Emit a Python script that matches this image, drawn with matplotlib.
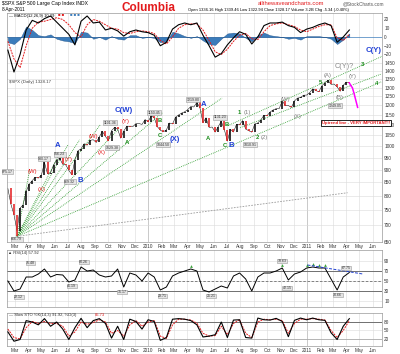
import matplotlib
matplotlib.use('Agg')
import matplotlib.pyplot as plt
from matplotlib.ticker import NullLocator, NullFormatter
import pandas as pd

plt.rcParams['font.family'] = ['Liberation Sans', 'DejaVu Sans']

# $SPX weekly closes, Fridays 13-Feb-2009 .. 8-Apr-2011
spx_close = [826.8, 770.1, 735.1, 683.4, 756.6, 768.5, 815.9, 842.5, 856.6, 869.6,
             866.2, 877.5, 929.2, 882.9, 887.0, 919.1, 940.1, 946.2, 921.2, 918.9,
             896.4, 879.1, 940.4, 979.3, 987.5, 1010.5, 1004.1, 1026.1, 1028.9, 1016.4,
             1042.7, 1068.3, 1044.4, 1025.2, 1071.5, 1087.7, 1079.6, 1036.2, 1069.3, 1093.5,
             1091.4, 1091.5, 1106.0, 1106.4, 1102.5, 1126.5, 1115.1,
             1145.0, 1136.0, 1091.8, 1073.9, 1066.2, 1075.5, 1109.2, 1104.5, 1138.7, 1150.0,
             1159.9, 1166.6, 1178.1, 1194.4, 1192.1, 1217.3, 1186.7, 1110.9, 1135.7, 1087.7,
             1089.4, 1064.9, 1091.6, 1117.5, 1076.8, 1022.6, 1078.0, 1064.9, 1102.7, 1101.6,
             1121.6, 1079.3, 1071.7, 1064.6, 1104.5, 1109.6, 1125.6, 1148.7, 1146.2, 1165.2,
             1176.2, 1183.1, 1183.3, 1225.9, 1199.2, 1199.7, 1189.4, 1224.7, 1240.4, 1243.9,
             1256.8, 1257.6,
             1271.5, 1293.2, 1283.4, 1276.3, 1310.9, 1329.2, 1343.0, 1319.9, 1321.2, 1304.3,
             1279.2, 1313.8, 1332.4, 1328.2]
week_dates = pd.date_range('2009-02-13', periods=len(spx_close), freq='W-FRI')
march_low = 666.79
march_low_week = 3

# projected decline (pink)
proj_dates = ['2011-04-12', '2011-04-15', '2011-04-19', '2011-04-27']
proj_vals = [1310, 1300, 1265, 1190]

# oscillators, every second week
top_black = [-15, -40, -20, 8, 19, 16, 21, 24, 17, 10, 3, -9, 18, 24, 16, 17, 8, 10, 7, 1,
             6, 8, 6, 5, 2, -10, -6, 9, 14, 16, 14, 16, 2, -10, -23, -19, -9, -1, 6, 3,
             -8, 0, 13, 16, 16, 17, 13, 11, 5, 9, 11, 14, 16, 13, -6, 0, 8]
top_red = [-5, -25, -35, -10, 10, 17, 18, 20, 22, 20, 14, 5, 0, 14, 20, 18, 14, 10, 9, 5,
           4, 6, 7, 6, 4, -4, -8, 0, 10, 14, 15, 15, 8, -4, -17, -20, -14, -5, 2, 4,
           -2, -3, 6, 13, 15, 16, 14, 12, 8, 6, 9, 12, 14, 14, -1, -4, 3]
top_hist = [-6, -8, -2, 12, 8, 2, 1, 3, -2, -4, -5, -7, 6, 5, -2, 0, -3, 1, -2, -3,
            2, 2, -1, 0, -1, -6, -5, 6, 4, 1, -1, 1, -4, -8, -9, -2, 4, 5, 4, -1,
            -5, 2, 5, 2, 1, 0, -2, -1, -3, 1, 1, 1, 0, -2, -8, -3, 4]
rsi = [50, 30, 34, 58, 58, 64, 74, 58, 63, 62, 48, 52, 78, 70, 72, 62, 58, 60, 74, 38,
       66, 62, 50, 66, 58, 32, 38, 60, 66, 70, 74, 70, 32, 28, 34, 40, 36, 60, 66, 54,
       30, 58, 66, 66, 70, 76, 52, 64, 68, 76, 78, 76, 76, 54, 32, 58, 67]
sto_k = [45, 12, 18, 85, 80, 70, 92, 65, 80, 55, 18, 60, 93, 60, 85, 92, 75, 23, 65, 18,
         90, 82, 55, 88, 82, 15, 25, 90, 92, 90, 85, 70, 27, 30, 35, 80, 25, 87, 88, 25,
         23, 94, 88, 87, 93, 82, 28, 86, 94, 88, 94, 88, 86, 42, 18, 65, 92]
sto_d = [55, 25, 20, 60, 82, 75, 82, 75, 75, 65, 30, 45, 80, 72, 78, 88, 80, 40, 50, 30,
         70, 85, 65, 80, 85, 30, 22, 70, 90, 90, 87, 76, 40, 30, 32, 65, 35, 75, 88, 40,
         25, 80, 90, 88, 90, 85, 40, 75, 90, 90, 92, 90, 87, 50, 25, 50, 85]
osc_dates = week_dates[::2]

price_ticks = list(range(650, 1451, 50))

# trend lines: fan from the March 2009 low, channel, long gray line
fan_ends = [('2009-04-04', 899), ('2009-06-08', 953), ('2009-07-01', 1006),
            ('2009-07-28', 1029), ('2009-09-13', 1100), ('2009-10-28', 1086),
            ('2010-02-03', 1162), ('2010-06-20', 1241), ('2011-06-20', 1334)]
channel = [(('2010-07-03', 1096), ('2011-06-24', 1499)),
           (('2010-07-31', 1086), ('2011-06-21', 1383))]
gray_line = (('2009-03-06', 666.79), ('2011-04-04', 811))

red_labels = [('(W)', '2009-04-11', 892), ('(X)', '2009-05-02', 822), ('(Y)', '2009-07-03', 943),
              ('(W)', '2009-08-28', 1043), ('(X)', '2009-09-17', 970), ('(Y)', '2009-11-10', 1116)]
blue_labels = [('A', '2009-06-08', 1001), ('B', '2009-07-30', 856), ('C(W)', '2009-11-05', 1172),
               ('(X)', '2010-03-03', 1029), ('A', '2010-05-09', 1203), ('B', '2010-07-12', 1002),
               ('C(Y)', '2011-06-02', 1534)]
green_labels = [('A', '2009-11-14', 1015), ('B', '2010-01-28', 1122), ('C', '2010-01-27', 1047),
                ('A', '2010-05-18', 1034), ('B', '2010-07-01', 1100), ('C', '2010-06-27', 1004),
                ('1', '2010-07-30', 1161), ('2', '2010-09-08', 1038), ('5', '2011-02-01', 1329),
                ('3', '2011-05-09', 1441), ('4', '2011-06-10', 1325)]
gray_labels = [('(1)', '2010-08-16', 1161), ('(2)', '2010-09-24', 1038), ('(W)', '2010-11-12', 1231),
               ('(X)', '2010-12-09', 1141), ('(A)', '2011-02-17', 1371), ('(Y)', '2011-04-16', 1365),
               ('(B)', '2011-03-16', 1245)]
price_boxes = [('875.17', '2009-02-12', 892), ('666.79', '2009-03-05', 658),
               ('930.17', '2009-05-06', 944), ('956.23', '2009-06-12', 963),
               ('869.32', '2009-07-05', 852), ('1101.36', '2009-10-06', 1111),
               ('1029.38', '2009-10-10', 993), ('1150.45', '2010-01-14', 1161),
               ('1044.50', '2010-02-05', 1006), ('1219.80', '2010-04-14', 1231),
               ('1131.23', '2010-06-15', 1137), ('1010.91', '2010-08-23', 1006),
               ('1249.05', '2011-03-07', 1198)]
rsi_boxes = [('22.12', '2009-03-10', 18), ('75.48', '2009-04-06', 86), ('41.19', '2009-07-10', 40),
             ('80.26', '2009-08-06', 88), ('35.17', '2009-11-03', 28), ('29.71', '2010-02-03', 20),
             ('25.21', '2010-05-25', 20), ('78.63', '2010-11-05', 90), ('42.15', '2010-11-16', 36),
             ('30.66', '2011-03-12', 22), ('67.75', '2011-04-01', 76)]

W, H = 400, 354
xlim = (pd.Timestamp('2009-02-11'), pd.Timestamp('2011-06-22'))
months = pd.date_range('2009-03-01', '2011-06-01', freq='MS')
month_labels = [str(m.year) if m.month == 1 else m.strftime('%b') for m in months]
red = '#e31a1c'
grid_c = '#dadada'


def box(top, bottom):
    return [7 / W, 1 - bottom / H, 375 / W, (bottom - top) / H]


def style(a):
    a.set_xlim(*xlim)
    a.set_xticks(months)
    a.set_xticklabels([])
    a.yaxis.tick_right()
    a.tick_params(length=0, labelsize=3.4, colors='#333333', pad=1.5)
    a.grid(True, color=grid_c, lw=0.4)
    for y in ['2010-01-01', '2011-01-01']:
        a.axvline(pd.Timestamp(y), color='#a8a8a8', lw=0.6, zorder=0.5)
    for s in a.spines.values():
        s.set_color('#999999')
        s.set_linewidth(0.5)


fig = plt.figure(figsize=(W / 100, H / 100), dpi=100)

# main price panel
ax = fig.add_axes(box(13, 242))
ax.set_yscale('log')
ax.set_ylim(651, 1818)
style(ax)
ax.set_yticks(price_ticks)
ax.set_yticklabels([str(v) for v in price_ticks])
ax.yaxis.set_minor_locator(NullLocator())
ax.yaxis.set_minor_formatter(NullFormatter())
ax.set_xticklabels(month_labels)

lows, highs, cols = [], [], []
for i in range(1, len(spx_close)):
    a, b = spx_close[i - 1], spx_close[i]
    lows.append(march_low if i == march_low_week else min(a, b))
    highs.append(max(a, b))
    cols.append('black' if b >= a else red)
ax.vlines(week_dates[1:], lows, highs, colors=cols, lw=1.1, zorder=3)
ax.plot(week_dates, spx_close, color='black', lw=0.35, zorder=2)
ax.plot([week_dates[-1]] + [pd.Timestamp(d) for d in proj_dates], [spx_close[-1]] + proj_vals,
        color='#ff00ff', lw=1.1, zorder=4)

origin = (week_dates[march_low_week], march_low)
for d, p in fan_ends:
    ax.plot([origin[0], pd.Timestamp(d)], [origin[1], p], color='#2a9a2a', lw=0.6,
            ls=(0, (1, 1.3)), zorder=2)
for (d0, p0), (d1, p1) in channel:
    ax.plot([pd.Timestamp(d0), pd.Timestamp(d1)], [p0, p1], color='#2a9a2a', lw=0.6,
            ls=(0, (1, 1.3)), zorder=2)
(gd0, gp0), (gd1, gp1) = gray_line
ax.plot([pd.Timestamp(gd0), pd.Timestamp(gd1)], [gp0, gp1], color='#9a9a9a', lw=0.6,
        ls=(0, (2, 1.5)), zorder=2)

for t, d, p in red_labels:
    ax.text(pd.Timestamp(d), p, t, color=red, fontsize=4.2, ha='center', va='center', zorder=5)
for t, d, p in blue_labels:
    ax.text(pd.Timestamp(d), p, t, color='#1f3fd6', fontsize=5.6, fontweight='bold',
            ha='center', va='center', zorder=5, clip_on=False)
for t, d, p in green_labels:
    ax.text(pd.Timestamp(d), p, t, color='#1a8c1a', fontsize=4.2, fontweight='bold',
            ha='center', va='center', zorder=5)
for t, d, p in gray_labels:
    ax.text(pd.Timestamp(d), p, t, color='#7f7f7f', fontsize=4.2, ha='center', va='center', zorder=5)
ax.text(pd.Timestamp('2011-03-28'), 1427, 'C(Y)?', color='#8a8a8a', fontsize=5.2,
        ha='center', va='center', zorder=5)
for t, d, p in price_boxes:
    ax.text(pd.Timestamp(d), p, t, fontsize=2.6, color='#333333', ha='center', va='center', zorder=6,
            bbox=dict(boxstyle='square,pad=0.12', fc='#e4e4e4', ec='#9a9a9a', lw=0.4))
ax.text(pd.Timestamp('2011-02-05'), 1111, 'Uptrend line - VERY IMPORTANT!!', color=red,
        fontsize=3.1, fontweight='bold', ha='left', va='center', zorder=7, clip_on=False,
        bbox=dict(boxstyle='square,pad=0.2', fc='white', ec='black', lw=0.6))
ax.text(0.005, 0.70, '$SPX (Daily) 1328.17', transform=ax.transAxes, fontsize=3.2,
        color='#444444', va='center')

# oscillator drawn over the top of the price panel
osc = fig.add_axes(box(13, 77))
osc.set_xlim(*xlim)
osc.set_ylim(-45.7, 27.4)
osc.patch.set_alpha(0)
for s in osc.spines.values():
    s.set_visible(False)
osc.set_xticks([])
osc.yaxis.tick_right()
osc.set_yticks([-20, -10, 0, 10, 20])
osc.tick_params(length=0, labelsize=3.4, colors='#333333', pad=1.5)
osc.fill_between(osc_dates[:len(top_hist)], 0, top_hist, color='#3b7cbb', lw=0.3,
                 edgecolor='#24558a', zorder=2)
osc.plot(osc_dates[:len(top_red)], top_red, color=red, lw=0.7, ls=(0, (2, 1)), zorder=3)
osc.plot(osc_dates[:len(top_black)], top_black, color='black', lw=0.8, zorder=4)
osc.axhline(0, color='#3b7cbb', lw=0.5, zorder=1)

# RSI panel
ra = fig.add_axes(box(250, 307))
ra.set_ylim(-2, 112)
style(ra)
ra.set_yticks([10, 30, 50, 70, 90])
ra.axhline(70, color='#707070', lw=0.7)
ra.axhline(30, color='#707070', lw=0.7)
ra.axhline(50, color='#707070', lw=0.6, ls=(0, (3, 2)))
ra.plot(osc_dates[:len(rsi)], rsi, color='black', lw=0.7, zorder=3)
for i, v in enumerate(rsi):
    if v >= 74 and osc_dates[i] > pd.Timestamp('2010-03-01'):
        ra.plot(osc_dates[i], v + 6, marker='^', ms=2, color='#3aa13a', mec='none', zorder=4)
ra.plot([pd.Timestamp('2011-01-02'), pd.Timestamp('2011-05-09')], [82, 64], color='#2040d0',
        lw=0.7, ls=(0, (3, 1.5)), zorder=4)
for t, d, v in rsi_boxes:
    ra.text(pd.Timestamp(d), v, t, fontsize=2.6, color='#333333', ha='center', va='center', zorder=6,
            bbox=dict(boxstyle='square,pad=0.12', fc='#e4e4e4', ec='#9a9a9a', lw=0.4))
ra.text(0.003, 0.985, '\u25b2 RSI(14) 57.92', transform=ra.transAxes, fontsize=3.0, va='top',
        ha='left', color='#333333', zorder=7)

# slow stochastic panel
sa = fig.add_axes(box(313, 346))
sa.set_ylim(-5, 112)
style(sa)
sa.set_yticks([20, 50, 80])
sa.axhline(80, color='#707070', lw=0.7)
sa.axhline(20, color='#a0a0a0', lw=0.5)
sa.plot(osc_dates[:len(sto_d)], sto_d, color=red, lw=0.7, ls=(0, (2, 1)), zorder=3)
sa.plot(osc_dates[:len(sto_k)], sto_k, color='black', lw=0.8, zorder=4)
sa.set_xticklabels(month_labels)
sa.text(0.005, 0.93, '\u2014 Slow STO %K(14,3) 91.92, %D(3)', transform=sa.transAxes,
        fontsize=3.0, va='center', ha='left', color='#333333')
sa.text(0.235, 0.93, '85.73', transform=sa.transAxes, fontsize=3.0, va='center', ha='left',
        color=red)

# header texts
fig.text(2 / W, 1 - 4 / H, '$SPX S&P 500 Large Cap Index INDX', fontsize=3.6, va='center')
fig.text(2 / W, 1 - 10 / H, '8-Apr-2011', fontsize=3.4, va='center')
fig.text(148 / W, 1 - 8 / H, 'Columbia', color=red, fontsize=8.5, fontweight='bold',
         ha='center', va='center')
fig.text(258 / W, 1 - 3.5 / H, 'allthewaveandcharts.com', color=red, fontsize=4.2, va='center')
fig.text(343 / W, 1 - 3.5 / H, '@StockCharts.com', color='#555555', fontsize=3.4, va='center')
fig.text(188 / W, 1 - 10 / H,
         'Open 1336.16 High 1339.46 Low 1322.94 Close 1328.17 Volume 3.2B Chg -5.34 (-0.40%)',
         fontsize=2.9, va='center')
fig.text(9 / W, 1 - 15.5 / H, '\u2014 MACD(12,26,9) 10.29', fontsize=3.0, va='center')
fig.text(58 / W, 1 - 15.5 / H, '\u25a0 \u25a0', fontsize=3.0, va='center', color=red)
fig.text(70 / W, 1 - 15.5 / H, '\u25a0 \u25a0 \u25a0', fontsize=3.0, va='center', color='#3b7cbb')

fig.savefig('out.png', dpi=100)
